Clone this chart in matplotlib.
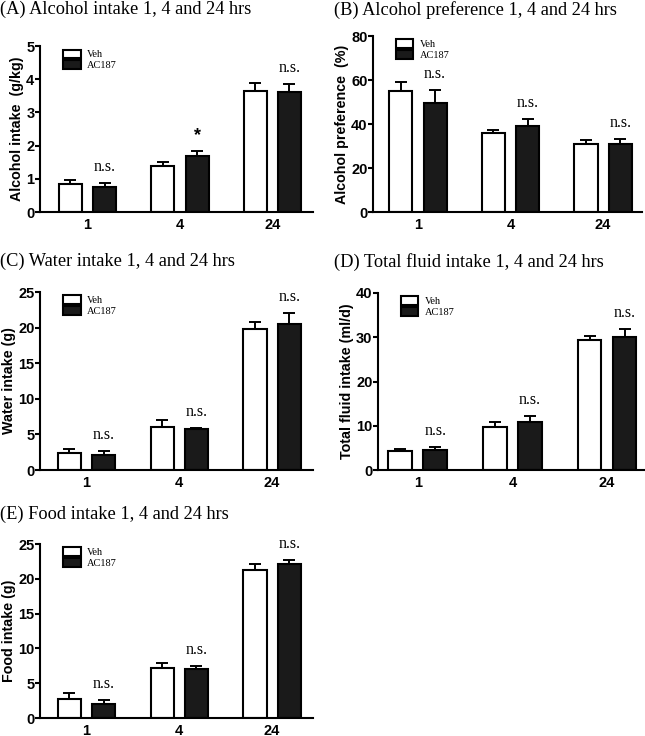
import matplotlib
matplotlib.use('Agg')
import matplotlib.pyplot as plt
import numpy as np

# time points (hrs)
groups = ['1', '4', '24']

# (A) alcohol intake g/kg
alc_veh = [0.84, 1.39, 3.65]
alc_veh_err = [0.12, 0.11, 0.23]
alc_ac = [0.76, 1.69, 3.6]
alc_ac_err = [0.12, 0.16, 0.25]
alc_marks = ['n.s.', '*', 'n.s.']

# (B) alcohol preference %
pref_veh = [55.0, 35.8, 30.9]
pref_veh_err = [4.2, 1.5, 1.8]
pref_ac = [49.5, 39.2, 31.0]
pref_ac_err = [5.9, 2.9, 2.0]
pref_marks = ['n.s.', 'n.s.', 'n.s.']

# (C) water intake g
water_veh = [2.35, 6.1, 19.85]
water_veh_err = [0.6, 0.9, 0.95]
water_ac = [2.1, 5.8, 20.55]
water_ac_err = [0.57, 0.15, 1.55]
water_marks = ['n.s.', 'n.s.', 'n.s.']

# (D) total fluid intake ml/d
fluid_veh = [4.3, 9.8, 29.4]
fluid_veh_err = [0.5, 1.1, 0.8]
fluid_ac = [4.45, 10.9, 30.1]
fluid_ac_err = [0.65, 1.3, 1.7]
fluid_marks = ['n.s.', 'n.s.', 'n.s.']

# (E) food intake g
food_veh = [2.73, 7.2, 21.3]
food_veh_err = [0.8, 0.75, 0.8]
food_ac = [2.06, 7.05, 22.1]
food_ac_err = [0.55, 0.45, 0.6]
food_marks = ['n.s.', 'n.s.', 'n.s.']

SANS = 'Liberation Sans'
SERIF = 'Liberation Serif'
W, H = 645, 736

fig = plt.figure(figsize=(W / 100, H / 100), dpi=100)


def px_axes(l, r, t, b):
    return fig.add_axes([l / W, 1 - b / H, (r - l) / W, (b - t) / H])


def panel(box, xlim, title, title_xy, veh, veh_err, ac, ac_err, marks, ymax, ystep, ylabel):
    ax = px_axes(*box)
    x = np.arange(len(groups))
    off, w = 0.185, 0.25
    z = np.zeros(len(groups))
    ax.bar(x - off, veh, w, color='white', edgecolor='black', lw=1.5, label='Veh', zorder=2)
    ax.bar(x + off, ac, w, color='#1a1a1a', edgecolor='black', lw=1.5, label='AC187', zorder=2)
    ax.errorbar(x - off, veh, yerr=[z, veh_err], fmt='none', ecolor='black', elinewidth=1.4,
                capsize=4.5, capthick=1.4, zorder=1)
    ax.errorbar(x + off, ac, yerr=[z, ac_err], fmt='none', ecolor='black', elinewidth=1.4,
                capsize=4.5, capthick=1.4, zorder=1)
    tops = np.array(ac) + np.array(ac_err)
    for xi, top, m in zip(x + off, tops, marks):
        if m == '*':
            ax.annotate(m, (xi, top), xytext=(0, 6), textcoords='offset pixels', ha='center',
                        va='bottom', fontsize=13, fontweight='bold', family=SANS)
        else:
            ax.annotate(m, (xi, top), xytext=(0, 8), textcoords='offset pixels', ha='center',
                        va='bottom', fontsize=11.5, family=SERIF)
    ax.set_xlim(*xlim)
    ax.set_ylim(0, ymax)
    ax.set_yticks(np.arange(0, ymax + 0.01, ystep))
    ax.set_xticks(x)
    ax.set_xticklabels(groups)
    for s in ['top', 'right']:
        ax.spines[s].set_visible(False)
    for s in ['left', 'bottom']:
        ax.spines[s].set_linewidth(1.5)
    ax.tick_params(axis='y', length=3.5, width=1.5, pad=0.5)
    ax.tick_params(axis='x', length=0, pad=4)
    for t in ax.get_xticklabels() + ax.get_yticklabels():
        t.set_family(SANS)
        t.set_fontweight('bold')
        t.set_fontsize(10.5)
    ax.set_ylabel(ylabel, family=SANS, fontweight='bold', fontsize=10.3, labelpad=1.5)
    ax.legend(loc='upper left', bbox_to_anchor=(0.065, 1.01), frameon=False,
              prop={'family': SERIF, 'size': 7.5}, handlelength=1.7, handleheight=0.85,
              labelspacing=0.1, borderpad=0, handletextpad=0.6)
    fig.text(title_xy[0] / W, 1 - title_xy[1] / H, title, family=SERIF, fontsize=13.2,
             ha='left', va='top')
    return ax


panel((40, 313, 46, 212), (-0.515, 2.44), '(A) Alcohol intake 1, 4 and 24 hrs', (0, 1),
      alc_veh, alc_veh_err, alc_ac, alc_ac_err, alc_marks, 5, 1, 'Alcohol intake  (g/kg)')
panel((373, 642, 36, 212), (-0.486, 2.42), '(B) Alcohol preference 1, 4 and 24 hrs', (334, 1),
      pref_veh, pref_veh_err, pref_ac, pref_ac_err, pref_marks, 80, 20, 'Alcohol preference  (%)')
panel((40, 313, 292, 470), (-0.50, 2.44), '(C) Water intake 1, 4 and 24 hrs', (0, 253),
      water_veh, water_veh_err, water_ac, water_ac_err, water_marks, 25, 5, 'Water intake (g)')
panel((378, 645, 293, 470), (-0.42, 2.4), '(D) Total fluid intake 1, 4 and 24 hrs', (334, 253),
      fluid_veh, fluid_veh_err, fluid_ac, fluid_ac_err, fluid_marks, 40, 10, 'Total fluid intake (ml/d)')
panel((40, 313, 544, 718), (-0.50, 2.44), '(E) Food intake 1, 4 and 24 hrs', (0, 506),
      food_veh, food_veh_err, food_ac, food_ac_err, food_marks, 25, 5, 'Food intake (g)')

fig.savefig('out.png', dpi=100)
